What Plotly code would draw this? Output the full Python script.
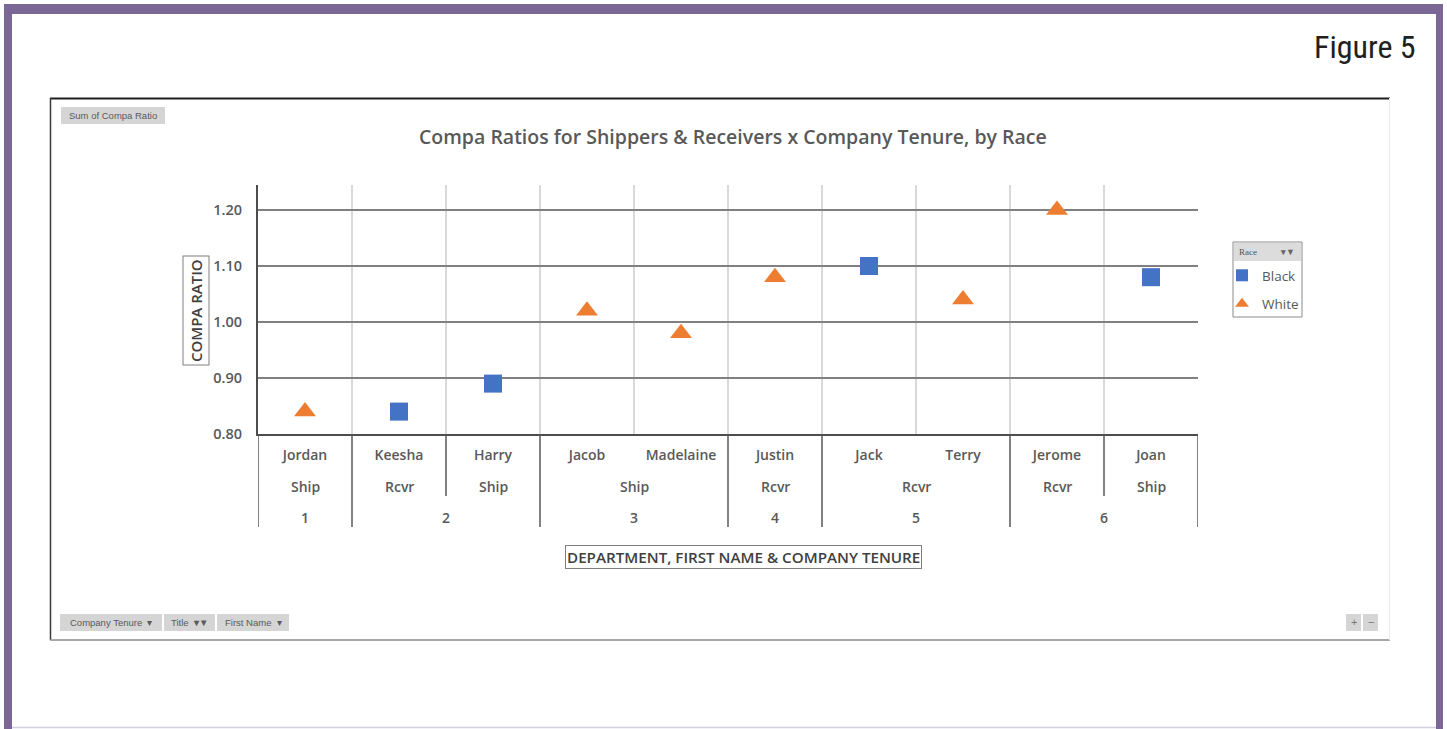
import plotly.graph_objects as go

# ---------------- data ----------------
names = ["Jordan", "Keesha", "Harry", "Jacob", "Madelaine", "Justin", "Jack", "Terry", "Jerome", "Joan"]
titles = ["Ship", "Rcvr", "Ship", "Ship", "Ship", "Rcvr", "Rcvr", "Rcvr", "Rcvr", "Ship"]
tenure = [1, 2, 2, 3, 3, 4, 5, 5, 6, 6]
race = ["White", "Black", "Black", "White", "White", "White", "Black", "White", "White", "Black"]
compa = [0.84, 0.84, 0.89, 1.02, 0.98, 1.08, 1.10, 1.04, 1.20, 1.08]
y_ticks = [0.80, 0.90, 1.00, 1.10, 1.20]
race_order = ["Black", "White"]
race_colors = {"Black": "#4472C4", "White": "#ED7D31"}
race_symbols = {"Black": "square", "White": "triangle-up"}
race_sizes = {"Black": 18, "White": 19}

# ---------------- geometry helpers (page pixels -> paper) ----------------
W, H = 1447, 729
L, R, T, B = 258, 1198, 185, 434
Y_MIN, Y_PER_PX = 0.80, 0.10 / 56.0
Y_MAX = Y_MIN + (B - T) * Y_PER_PX


def px(x):
    return (x - L) / (R - L)


def py(y):
    return (B - y) / (B - T)


FONT = "Open Sans, Lato, sans-serif"
TXT = "#595959"

fig = go.Figure()
idx = list(range(len(names)))
for r in race_order:
    xs = [i for i in idx if race[i] == r]
    ys = [compa[i] for i in idx if race[i] == r]
    fig.add_trace(go.Scatter(
        x=xs, y=ys, mode="markers", name=r, legendgroup=r,
        marker=dict(symbol=race_symbols[r], size=race_sizes[r], color=race_colors[r],
                    line=dict(width=0)),
        hovertext=[names[i] for i in xs],
    ))

shapes = []
annotations = []


def rect(x0, y0, x1, y1, fill, line=None, lw=0):
    shapes.append(dict(type="rect", xref="paper", yref="paper",
                       x0=px(x0), x1=px(x1), y0=py(y0), y1=py(y1),
                       fillcolor=fill, line=dict(color=line or fill, width=lw), layer="below"))


def hline(x0, x1, y, color, w):
    shapes.append(dict(type="line", xref="paper", yref="paper", x0=px(x0), x1=px(x1),
                       y0=py(y), y1=py(y), line=dict(color=color, width=w), layer="below"))


def vline(x, y0, y1, color, w):
    shapes.append(dict(type="line", xref="paper", yref="paper", x0=px(x), x1=px(x),
                       y0=py(y0), y1=py(y1), line=dict(color=color, width=w), layer="below"))


def text(x, y, s, size=13, color=TXT, family=FONT, xanchor="center", weight=None, **kw):
    f = dict(family=family, size=size, color=color)
    if weight:
        f["weight"] = weight
    annotations.append(dict(xref="paper", yref="paper", x=px(x), y=py(y), text=s,
                            showarrow=False, xanchor=xanchor, yanchor="middle", font=f, **kw))


# purple frame
PURPLE = "#7a6795"
rect(4, 4, 1443, 14, PURPLE)
rect(4, 4, 12, 729, PURPLE)
rect(1436, 4, 1443, 729, PURPLE)
hline(12, 1436, 727.5, "#d4cfe0", 1.5)

# chart box borders
hline(50, 1390, 98.5, "#1e1e1e", 2)
vline(50.5, 98, 640, "#3a3a3a", 1.5)
hline(50, 1390, 640, "#8c8c8c", 1.5)
vline(1389.5, 98, 640, "#ececec", 1)

# "Figure 5"
text(1418, 47, "Figure 5", size=32, color="#231f20",
     family="Liberation Sans Narrow, Roboto Condensed, Roboto, sans-serif", xanchor="right")

# field buttons
BTN = "#d5d5d5"
BTN_TXT = "#5a5a5a"
SMALL = "Liberation Sans, Arial, sans-serif"
rect(61, 107, 165, 124, BTN)
text(113, 115.5, "Sum of Compa Ratio", size=9.5, color=BTN_TXT, family=SMALL)
rect(60, 614, 162, 631, BTN)
text(111, 622.5, "Company Tenure  ▾", size=9.5, color=BTN_TXT, family=SMALL)
rect(164, 614, 215, 631, BTN)
text(189.5, 622.5, "Title  <b>▾▼</b>", size=9.5, color=BTN_TXT, family=SMALL)
rect(217, 614, 289, 631, BTN)
text(253, 622.5, "First Name  ▾", size=9.5, color=BTN_TXT, family=SMALL)
rect(1346, 614, 1361, 631, BTN)
text(1353.5, 622, "+", size=11, color="#777777", family=SMALL)
rect(1363, 614, 1378, 631, BTN)
text(1370.5, 622, "−", size=11, color="#777777", family=SMALL)

# chart title
text(733, 136, "Compa Ratios for Shippers &amp; Receivers x Company Tenure, by Race",
     size=19.5, color=TXT, weight=600)

# axis titles (boxed)
text(196, 310.5, "COMPA RATIO", size=15, color="#404040", weight=600, textangle=-90,
     bordercolor="#7f7f7f", borderwidth=1, borderpad=2.5, bgcolor="white")
text(743, 556.5, "DEPARTMENT, FIRST NAME &amp; COMPANY TENURE", size=15.2, color="#404040", weight=600,
     bordercolor="#7f7f7f", borderwidth=1, borderpad=1, bgcolor="white")

# legend frame + header ("Race" field button)
rect(1233, 242, 1302, 317, "white", line="#8a8a8a", lw=1)
rect(1234, 243, 1301, 261, "#dcdcdc")
text(1237, 252, "Race", size=9, color="#555555", family="Liberation Serif, serif", xanchor="left")
text(1297, 252, "<b>▾▼</b>", size=9, color="#666666", family=SMALL, xanchor="right")

# ---------------- multi-level category axis ----------------
ROW_TITLE_Y, ROW_TEN_Y = 486, 517
SEP_TITLE_END, SEP_FULL_END = 496, 527
SEP = "#595959"
n = len(names)


def sep(xval, yend):
    shapes.append(dict(type="line", xref="x", yref="paper", x0=xval, x1=xval,
                       y0=0, y1=py(yend), line=dict(color=SEP, width=1.5), layer="above"))


sep(-0.5, SEP_FULL_END)
sep(n - 0.5, SEP_FULL_END)
for i in range(n - 1):
    if tenure[i] != tenure[i + 1]:
        sep(i + 0.5, SEP_FULL_END)
    elif titles[i] != titles[i + 1]:
        sep(i + 0.5, SEP_TITLE_END)


def runs(keys):
    out = []
    start = 0
    for i in range(1, len(keys) + 1):
        if i == len(keys) or keys[i] != keys[start]:
            out.append((start, i - 1))
            start = i
    return out


tf = dict(family=FONT, size=14, color=TXT, weight=600)
for a, b in runs(list(zip(tenure, titles))):
    annotations.append(dict(xref="x", yref="paper", x=(a + b) / 2, y=py(ROW_TITLE_Y),
                            text=titles[a], showarrow=False, yanchor="middle", font=tf))
for a, b in runs(tenure):
    annotations.append(dict(xref="x", yref="paper", x=(a + b) / 2, y=py(ROW_TEN_Y),
                            text=str(tenure[a]), showarrow=False, yanchor="middle", font=tf))

fig.update_layout(
    width=W, height=H,
    margin=dict(l=L, r=W - R, t=T, b=H - B, pad=0),
    paper_bgcolor="white", plot_bgcolor="white",
    showlegend=True,
    legend=dict(
        x=px(1222), y=py(260), xanchor="left", yanchor="top",
        bgcolor="rgba(0,0,0,0)", borderwidth=0,
        font=dict(family=FONT, size=13.5, color=TXT),
        itemsizing="constant", itemwidth=30, tracegroupgap=8,
    ),
    xaxis=dict(
        range=[-0.5, n - 0.5], tickmode="array", tickvals=idx, ticktext=names,
        showgrid=False, zeroline=False, showline=True, linecolor="#4d4d4d", linewidth=2,
        ticks="", tickfont=dict(family=FONT, size=14, color=TXT, weight=600),
        ticklabelstandoff=7,
        minor=dict(tickmode="array", tickvals=[i + 0.5 for i in idx], showgrid=True,
                   gridcolor="#d9d9d9", gridwidth=1.5, ticks=""),
    ),
    yaxis=dict(
        range=[Y_MIN, Y_MAX], tickmode="array", tickvals=y_ticks, tickformat=".2f",
        showgrid=True, gridcolor="#808080", gridwidth=2, zeroline=False,
        showline=True, linecolor="#4d4d4d", linewidth=2, ticks="",
        tickfont=dict(family=FONT, size=14.5, color=TXT, weight=600), ticklabelstandoff=11,
    ),
    shapes=shapes,
    annotations=annotations,
)

fig.write_html("out.html", config={"displayModeBar": False},
               post_script="document.body.style.margin='0';")
